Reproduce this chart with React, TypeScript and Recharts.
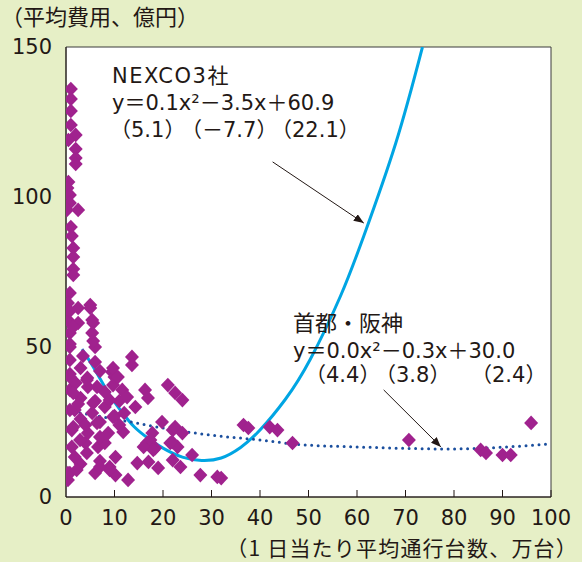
import React from 'react';
import {
  ComposedChart,
  Scatter,
  Line,
  XAxis,
  YAxis,
  CartesianGrid,
  ReferenceArea,
  ReferenceLine
} from 'recharts';

// scatter: [traffic (10k vehicles/day), average cost (100M yen)]
const costPoints: [number, number][] = [
  [1, 136], [1, 132.7], [1, 128.7], [1, 124], [2, 120.7], [0.5, 119], [2, 116], [2, 113], [2, 111],
  [0.5, 105], [0.3, 103], [0.8, 100.7], [0.8, 98], [0.2, 95.7], [2.5, 95.7], [1, 90], [1.2, 87],
  [1.5, 83], [1.5, 80], [1.5, 76], [1.5, 74], [0.8, 68], [0.4, 64.7], [2.5, 63], [5, 64], [0.4, 59],
  [2.5, 58], [5.4, 59], [0.8, 54.7], [5.4, 54.7], [0.8, 50], [6, 50], [13.6, 46.7], [13.6, 44],
  [0.8, 45.7], [6, 45], [9.5, 41.7], [0.8, 41], [4.4, 39.7],
  [0.8, 35.7], [4.5, 36.7], [9.7, 37.3], [11.6, 35.7], [14.3, 30], [11.8, 21.7], [1.8, 29], [5.4, 28],
  [1.2, 22.3], [4.5, 21.3], [8.7, 21.3], [1.2, 16.7], [6.6, 16.7], [10.2, 13.3], [1.8, 13.3],
  [0.4, 8], [0.4, 5.7], [6, 8], [10.2, 7.3], [12.8, 5.7],
  [3, 33], [6, 32], [8, 30], [3, 26], [7, 25], [10, 27], [4, 18], [8, 18], [3, 11], [7, 12], [9, 10],
  [11, 32], [12, 28], [10, 40], [3, 43], [7, 42], [2, 38], [8, 35],
  [0.8, 62], [5, 63], [1.5, 56.7], [5.6, 58], [0.8, 51], [5.6, 52], [0.8, 40], [4.3, 39],
  [1.5, 34.7], [6.4, 36.7], [0.8, 29], [5.6, 31.3], [9, 32.3], [1.5, 23.3], [6.4, 24.7], [9.7, 26.7],
  [2.9, 19], [7, 20], [4.3, 14.7], [0.8, 8], [9, 9], [7, 10], [14.7, 11.3], [9.7, 43], [10.7, 40],
  [12.6, 33.3], [3.5, 47], [2.5, 31], [4, 24], [11, 24], [2.2, 9],
  [16.3, 35.7], [16.9, 33], [21, 37.3], [22.5, 34.7], [24, 32.3], [19.8, 25], [17.8, 21.3],
  [22, 22.3], [16.7, 18], [18.4, 16.3], [21.9, 18.3], [23, 16.7], [17, 11.7], [19, 9.7], [22, 12.3],
  [23.6, 10], [26, 14], [27.7, 7.3], [31.2, 6.7], [32, 6.3],
  [22.5, 23.3], [24, 21.3], [21.5, 18], [17.4, 19], [16, 16.7], [18, 15.7],
  [36.6, 24], [37.6, 23], [42, 23.3], [43.6, 22.3], [46.7, 18], [70.7, 19], [95.9, 24.7],
  [85.5, 15.7], [86.6, 14.7], [90, 14], [91.7, 14]
];

// NEXCO trend (solid)
const nexcoCurve: [number, number][] = [
  [3.3, 49.3], [5, 45], [7, 39.5], [9, 34], [11.2, 29], [14, 23.5], [17, 19.5], [20, 16.3],
  [24, 13.3], [28, 12.2], [32, 13], [36, 16.5], [40, 22.3], [45.2, 32.5], [50.4, 46],
  [56.6, 67], [61.4, 87], [68, 118], [73.5, 150]
];

// Shuto / Hanshin trend (dotted)
const shutoCurve: [number, number][] = [
  [2.9, 28], [7.6, 26.7], [15, 24.5], [20, 23], [25, 21.7], [30, 20.6], [40, 19], [48, 17.5],
  [60, 16.7], [70, 16.2], [78, 16], [85, 16.2], [90, 16.6], [95, 17.1], [100, 17.7]
];

const xTicks = [0, 10, 20, 30, 40, 50, 60, 70, 80, 90, 100];
const yTicks = [0, 50, 100, 150];

const scatterData = costPoints.map(([x, y]) => ({ x, y }));
const nexcoData = nexcoCurve.map(([x, y]) => ({ x, y }));
const shutoData = shutoCurve.map(([x, y]) => ({ x, y }));

const INK = '#231815';
const LATIN = "'DejaVu Sans', 'Noto Sans CJK JP', sans-serif";
const CJK = "'Noto Sans CJK JP', sans-serif";

const Diamond = (props: any) => {
  const { cx, cy } = props;
  if (cx == null || cy == null) return null;
  return (
    <polygon
      points={`${cx},${cy - 7.3} ${cx + 7},${cy} ${cx},${cy + 7.3} ${cx - 7},${cy}`}
      fill="#a0228e"
    />
  );
};

const XTick = (props: any) => {
  const { x, y, payload } = props;
  return (
    <g>
      {payload.value !== 0 && <line x1={x} y1={y - 7} x2={x} y2={y} stroke={INK} />}
      <text x={x} y={y + 28} textAnchor="middle" fontSize={21} fill={INK} fontFamily={LATIN}>
        {payload.value}
      </text>
    </g>
  );
};

const App = () => {
  return (
    <div
      style={{
        position: 'absolute',
        left: 0,
        top: 0,
        width: 582,
        height: 562,
        background: '#e6efc6'
      }}
    >
      <ComposedChart
        width={582}
        height={562}
        margin={{ top: 47, right: 31, bottom: 0, left: 0 }}
      >
        <CartesianGrid horizontal={false} vertical={false} fill="#ffffff" />
        <XAxis
          type="number"
          dataKey="x"
          domain={[0, 100]}
          ticks={xTicks}
          height={65}
          tickSize={0}
          tickMargin={0}
          tickLine={false}
          axisLine={{ stroke: INK }}
          tick={<XTick />}
          allowDataOverflow
        />
        <YAxis
          type="number"
          dataKey="y"
          domain={[0, 150]}
          ticks={yTicks}
          width={66}
          tickSize={0}
          tickMargin={14}
          tickLine={false}
          axisLine={{ stroke: INK }}
          tick={{ fontSize: 21, fill: INK, fontFamily: LATIN }}
          allowDataOverflow
        />
        <ReferenceArea x1={0} x2={100} y1={0} y2={150} fill="none" stroke="#3a3a3a" strokeWidth={1} />
        <Scatter data={scatterData} dataKey="y" shape={<Diamond />} isAnimationActive={false} />
        <Line
          data={nexcoData}
          dataKey="y"
          type="natural"
          stroke="#00a5e3"
          strokeWidth={3}
          dot={false}
          activeDot={false}
          isAnimationActive={false}
        />
        <Line
          data={shutoData}
          dataKey="y"
          type="monotone"
          stroke="#1b4f9e"
          strokeWidth={3}
          strokeDasharray="0 6.5"
          strokeLinecap="round"
          dot={false}
          activeDot={false}
          isAnimationActive={false}
        />
        <ReferenceLine
          segment={[{ x: 42.6, y: 111.7 }, { x: 61.4, y: 91.3 }]}
          stroke={INK}
          strokeWidth={1}
          markerEnd="url(#arrowHead)"
        />
        <ReferenceLine
          segment={[{ x: 65.5, y: 35.7 }, { x: 77.3, y: 16.7 }]}
          stroke={INK}
          strokeWidth={1}
          markerEnd="url(#arrowHead)"
        />
      </ComposedChart>
      <svg
        width={582}
        height={562}
        style={{ position: 'absolute', left: 0, top: 0, pointerEvents: 'none' }}
      >
        <defs>
          <marker
            id="arrowHead"
            markerWidth={10}
            markerHeight={8}
            refX={10}
            refY={4}
            orient="auto"
            markerUnits="userSpaceOnUse"
          >
            <path d="M0,0 L10,4 L0,8 z" fill={INK} />
          </marker>
        </defs>
        <text x={1} y={25} fontSize={22} fill={INK} fontFamily={CJK}>（平均費用、億円）</text>
        <text x={578} y={556} textAnchor="end" fontSize={21} fill={INK} fontFamily={CJK} letterSpacing={1.2}>
          （1 日当たり平均通行台数、万台）
        </text>

        <text x={112} y={83} fontSize={21} fill={INK} fontFamily={LATIN} letterSpacing={1.5}>NEXCO3社</text>
        <text x={112} y={110} fontSize={21} fill={INK} fontFamily={LATIN}>y＝0.1x²－3.5x＋60.9</text>
        <text x={110} y={137} fontSize={21} fill={INK} fontFamily={LATIN}>（5.1）</text>
        <text x={181} y={137} fontSize={21} fill={INK} fontFamily={LATIN}>（－7.7）</text>
        <text x={271} y={137} fontSize={21} fill={INK} fontFamily={LATIN}>（22.1）</text>

        <text x={293} y={331} fontSize={22} fill={INK} fontFamily={CJK}>首都・阪神</text>
        <text x={293} y={358} fontSize={21} fill={INK} fontFamily={LATIN}>y＝0.0x²－0.3x＋30.0</text>
        <text x={305} y={382} fontSize={21} fill={INK} fontFamily={LATIN}>（4.4）</text>
        <text x={375} y={382} fontSize={21} fill={INK} fontFamily={LATIN}>（3.8）</text>
        <text x={471} y={382} fontSize={21} fill={INK} fontFamily={LATIN}>（2.4）</text>
      </svg>
    </div>
  );
};

export default App;
